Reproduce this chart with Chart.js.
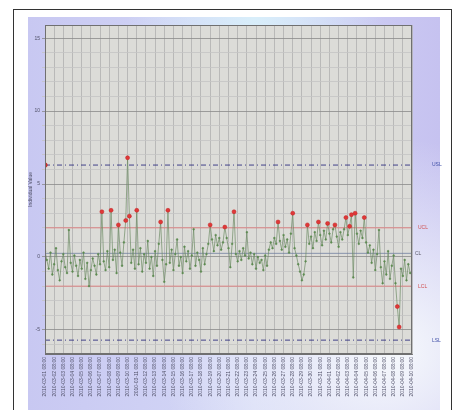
<!DOCTYPE html>
<html>
<head>
<meta charset="utf-8">
<script src="https://cdn.jsdelivr.net/npm/chart.js@4/dist/chart.umd.min.js"></script>
<style>
  html, body { margin: 0; padding: 0; background: #fff; }
  #frame { position: absolute; left: 13px; top: 9px; width: 439px; height: 410px; border: 1.5px solid #333; box-sizing: border-box; }
  #panel {
    position: absolute; left: 28px; top: 17px; width: 412px; height: 393px;
    background:
      radial-gradient(ellipse at 88% 85%, #f6f9fc 0%, rgba(246,249,252,0) 45%),
      radial-gradient(ellipse at 55% 0%, #d8eefa 0%, rgba(216,238,250,0) 40%),
      linear-gradient(90deg, #c8c8f2 0%, #d4d8f6 55%, #c6c2f0 100%);
  }
  #wrap { position: absolute; left: 0; top: 0; width: 455px; height: 410px; }
</style>
</head>
<body>
<div id="frame"></div>
<div id="panel"></div>
<div id="wrap"><canvas id="chart-control"></canvas></div>
<script>
const COLORS = {
  line:     '#6f8c66',
  point:    '#5c8a50',
  alarm:    '#e03838',
  limit:    '#e07070',
  center:   '#7080a0',
  spec:     '#303080',
  plotBg:   '#dcdcd8',
  gridMaj:  '#8a8a8a',
  gridMin:  '#c4c4c4',
  gridX:    '#b0b0b0',
  text:     '#505068',
};

// limits
const UCL = 2.0;
const LCL = -2.0;
const CL = 0.25;
const USL = 6.3;
const LSL = -5.7;

const Y_MIN = -6.65;
const Y_MAX = 15.9;
const X_MAX = 200;
const X_STEP = 5;

const VALUES = [
   0.4, -0.2, -0.8,  0.3, -1.2, -0.5,  0.6, -0.9, -1.6, -0.3,
   0.2, -0.7, -1.1, 1.85, -0.4, -1.0,  0.1, -0.6, -1.3, -0.2,
  -0.8,  0.3, -1.5, -0.4, -2.0, -0.9, -0.1, -0.6, -1.2,  0.2,
  -0.5,  3.1, -0.3, -0.9,  0.4, -0.7,  3.2, -0.2,  0.5, -1.1,
   2.2,  0.3, -0.6,  1.0,  2.5,  6.8,  2.8, -0.4,  0.5, -0.8,
   3.2, -0.5,  0.6, -1.0,  0.2, -0.4,  1.1, -0.8,  0.0, -1.3,
   0.4, -0.6,  0.9,  2.4, -0.2, -1.7, -0.5,  3.2, -0.4,  0.5,
  -0.9,  0.2,  1.2, -0.6,  0.0, -1.1,  0.7, -0.3,  0.4, -0.8,
   0.1,  1.9, -0.6,  0.3, -0.2, -1.0,  0.6, -0.5,  0.2,  0.9,
   2.2,  1.2,  0.4,  1.5,  0.8,  1.3,  0.5,  1.0, 2.05,  1.3,
   0.6, -0.7,  0.9,  3.1,  0.2, -0.3,  0.4, -0.2,  0.6,  0.1,
   1.7, -0.1,  0.3, -0.5,  0.2, -0.8,  0.0, -0.4, -0.2, -0.9,
   0.1, -0.6,  0.5,  1.0,  0.6,  1.3,  0.9,  2.4,  1.1,  0.5,
   1.5,  0.7,  1.2,  0.3,  1.6,  3.0,  0.6,  0.1, -0.5, -1.0,
  -1.6, -1.2, -0.3,  2.2,  0.9,  1.4,  0.6,  1.7,  1.1,  2.4,
   1.5,  0.8,  1.8,  1.2,  2.3,  1.6,  1.0,  1.9,  2.2,  1.4,
   0.7,  1.7,  1.2,  1.9,  2.7,  1.5,  2.1,  2.9, -1.4,  3.0,
   1.6,  0.9,  1.8,  1.3,  2.7,  1.0,  0.3,  0.8, -0.4,  0.5,
  -0.9,  0.2, 1.85, -0.7, -1.8, -0.3, -1.2,  0.4, -1.5, -0.6,
   0.1, -1.8, -3.4, -4.8, -0.8, -1.3, -0.2, -1.6, -0.5, -1.1,
];

const DATE_LABELS = [
  '2010-03-01 08:00', '2010-03-02 08:00', '2010-03-03 08:00', '2010-03-04 08:00',
  '2010-03-05 08:00', '2010-03-06 08:00', '2010-03-07 08:00', '2010-03-08 08:00',
  '2010-03-09 08:00', '2010-03-10 08:00', '2010-03-11 08:00', '2010-03-12 08:00',
  '2010-03-13 08:00', '2010-03-14 08:00', '2010-03-15 08:00', '2010-03-16 08:00',
  '2010-03-17 08:00', '2010-03-18 08:00', '2010-03-19 08:00', '2010-03-20 08:00',
  '2010-03-21 08:00', '2010-03-22 08:00', '2010-03-23 08:00', '2010-03-24 08:00',
  '2010-03-25 08:00', '2010-03-26 08:00', '2010-03-27 08:00', '2010-03-28 08:00',
  '2010-03-29 08:00', '2010-03-30 08:00', '2010-03-31 08:00', '2010-04-01 08:00',
  '2010-04-02 08:00', '2010-04-03 08:00', '2010-04-04 08:00', '2010-04-05 08:00',
  '2010-04-06 08:00', '2010-04-07 08:00', '2010-04-08 08:00', '2010-04-09 08:00',
  '2010-04-10 08:00',
];

const LIMIT_LABELS = [
  { value: USL, text: 'USL', color: '#4050a8', dx: 20 },
  { value: UCL, text: 'UCL', color: '#d05050', dx: 6 },
  { value: CL,  text: 'CL',  color: '#606070', dx: 3 },
  { value: LCL, text: 'LCL', color: '#d05050', dx: 6 },
  { value: LSL, text: 'LSL', color: '#4050a8', dx: 20 },
];

const FONT = 'Liberation Sans';

function isAlarm(v) {
  return v > UCL || v < LCL;
}

function flatLine(v) {
  return [{ x: 0, y: v }, { x: X_MAX, y: v }];
}

const plotDecor = {
  id: 'plotDecor',
  beforeDraw(chart) {
    const { ctx, chartArea: a } = chart;
    ctx.save();
    ctx.fillStyle = COLORS.plotBg;
    ctx.fillRect(a.left, a.top, a.right - a.left, a.bottom - a.top);
    ctx.restore();
  },
  afterDraw(chart) {
    const { ctx, chartArea: a } = chart;
    const y = chart.scales.y;
    ctx.save();
    ctx.strokeStyle = '#707070';
    ctx.lineWidth = 1;
    ctx.strokeRect(a.left + 0.5, a.top + 0.5, a.right - a.left - 1, a.bottom - a.top - 1);
    ctx.font = '5px ' + FONT;
    ctx.textBaseline = 'middle';
    LIMIT_LABELS.forEach(l => {
      ctx.fillStyle = l.color;
      ctx.fillText(l.text, a.right + l.dx, y.getPixelForValue(l.value));
    });
    ctx.restore();
  },
};

const ctx = document.getElementById('chart-control');

new Chart(ctx, {
  type: 'line',
  data: {
    datasets: [
      {
        label: 'Value',
        data: VALUES.map((v, i) => ({ x: i, y: v })),
        borderColor: COLORS.line,
        borderWidth: 0.7,
        pointRadius: c => isAlarm(c.raw.y) ? 2 : 0.9,
        pointBackgroundColor: c => isAlarm(c.raw.y) ? COLORS.alarm : COLORS.point,
        pointBorderColor: c => isAlarm(c.raw.y) ? '#c02020' : COLORS.point,
        pointBorderWidth: 0.5,
        order: 0,
      },
      { label: 'UCL', data: flatLine(UCL), borderColor: COLORS.limit, borderWidth: 0.8, pointRadius: 0, order: 1 },
      { label: 'LCL', data: flatLine(LCL), borderColor: COLORS.limit, borderWidth: 0.8, pointRadius: 0, order: 1 },
      { label: 'CL',  data: flatLine(CL),  borderColor: COLORS.center, borderWidth: 0.8, pointRadius: 0, order: 1 },
      {
        label: 'USL', data: flatLine(USL), borderColor: COLORS.spec, borderWidth: 0.9,
        borderDash: [5, 3, 1, 3], pointRadius: [2.2, 0], pointBackgroundColor: COLORS.alarm,
        pointBorderColor: '#c02020', order: 1,
      },
      { label: 'LSL', data: flatLine(LSL), borderColor: COLORS.spec, borderWidth: 0.9, borderDash: [5, 3, 1, 3], pointRadius: 0, order: 1 },
    ],
  },
  options: {
    responsive: true,
    maintainAspectRatio: false,
    animation: false,
    layout: { padding: { left: 28, top: 25, right: 43, bottom: 0 } },
    plugins: {
      legend: { display: false },
      tooltip: { enabled: false },
    },
    scales: {
      x: {
        type: 'linear',
        min: 0,
        max: X_MAX,
        afterFit: s => { s.height = 56; },
        border: { display: true, color: '#707070' },
        grid: { color: COLORS.gridX, lineWidth: 0.8, drawTicks: false },
        ticks: {
          stepSize: X_STEP,
          maxTicksLimit: 100,
          autoSkip: false,
          minRotation: 90,
          maxRotation: 90,
          padding: 3,
          color: COLORS.text,
          font: { family: FONT, size: 5 },
          callback: v => DATE_LABELS[Math.round(v / X_STEP)] || '',
        },
      },
      y: {
        min: Y_MIN,
        max: Y_MAX,
        afterFit: s => { s.width = 17; },
        border: { display: true, color: '#707070' },
        title: {
          display: true,
          text: 'Individual Value',
          color: COLORS.text,
          font: { family: FONT, size: 5 },
          padding: { top: 0, bottom: 2 },
        },
        grid: {
          lineWidth: 0.8,
          tickLength: 3,
          color: c => {
            const v = c.tick.value;
            if (Math.abs(v - Math.round(v)) > 1e-6) return 'rgba(0,0,0,0)';
            return v % 5 === 0 ? COLORS.gridMaj : COLORS.gridMin;
          },
        },
        ticks: {
          stepSize: 1,
          padding: 2,
          color: COLORS.text,
          font: { family: FONT, size: 5 },
          callback: v => (Math.abs(v % 5) < 1e-6 ? String(v) : ''),
        },
      },
    },
  },
  plugins: [plotDecor],
});
</script>
</body>
</html>
